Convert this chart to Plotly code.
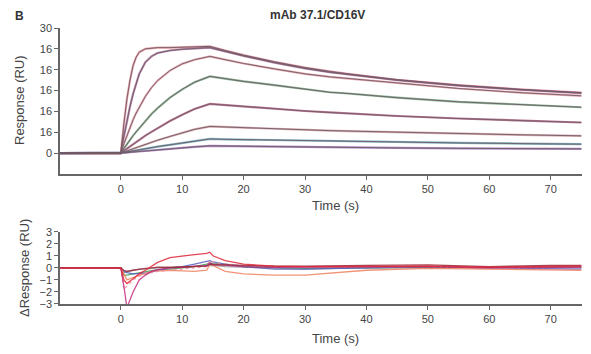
import plotly.graph_objects as go

# ---- Top panel: sensorgrams (time in s, response in RU) ----
T = [-10, 0, 0.5, 1, 1.5, 2, 2.5, 3, 4, 5, 6, 8, 10, 12, 14.5,
     17, 20, 25, 30, 34, 37, 45, 55, 65, 75]
curve1 = [0, 0, 7, 13, 17.5, 21, 23, 24.2, 25, 25.2, 25.3, 25.3, 25.4, 25.5, 25.6,
          24.6, 23.5, 21.9, 20.5, 19.6, 19.0, 17.6, 16.3, 15.3, 14.5]
curve2 = [0, 0, 4, 7.8, 11.2, 14.2, 16.8, 19.0, 21.8, 23.2, 24.0, 24.6, 24.9, 25.1, 25.3,
          24.4, 23.3, 21.7, 20.3, 19.4, 18.9, 17.5, 16.2, 15.2, 14.4]
curve3 = [0, 0, 2.2, 4.3, 6.2, 8, 9.6, 11, 13.6, 15.7, 17.4, 19.8, 21.4, 22.4, 23.2,
          22.4, 21.5, 20.2, 19.0, 18.3, 17.9, 16.7, 15.5, 14.5, 13.75]
curve4 = [0, 0, 1.1, 2.2, 3.2, 4.2, 5.1, 6.0, 7.8, 9.4, 10.8, 13.3, 15.3, 17.0, 18.4,
          17.8, 17.2, 16.3, 15.3, 14.6, 14.3, 13.3, 12.3, 11.6, 11.0]
curve5 = [0, 0, 0.55, 1.1, 1.65, 2.2, 2.7, 3.2, 4.2, 5.1, 6.0, 7.7, 9.2, 10.6, 11.8,
          11.5, 11.2, 10.6, 10.1, 9.75, 9.5, 8.9, 8.3, 7.8, 7.35]
curve6 = [0, 0, 0.28, 0.55, 0.83, 1.1, 1.35, 1.6, 2.1, 2.6, 3.1, 4.0, 4.9, 5.7, 6.4,
          6.25, 6.1, 5.85, 5.6, 5.4, 5.3, 5.0, 4.7, 4.4, 4.15]
curve7 = [0, 0, 0.14, 0.28, 0.42, 0.56, 0.7, 0.83, 1.1, 1.35, 1.58, 2.0, 2.45, 2.9, 3.4,
          3.32, 3.25, 3.1, 2.95, 2.8, 2.75, 2.6, 2.45, 2.3, 2.15]
curve8 = [0, 0, 0.07, 0.14, 0.21, 0.28, 0.35, 0.42, 0.55, 0.68, 0.8, 1.05, 1.28, 1.5, 1.75,
          1.7, 1.65, 1.55, 1.45, 1.35, 1.32, 1.25, 1.15, 1.08, 1.03]
curves = [curve1, curve2, curve3, curve4, curve5, curve6, curve7, curve8]
curve_colors = ["#e07c88", "#9a5a8a", "#e08a96", "#5e9a6e",
                "#a0406a", "#c88a90", "#4a94a8", "#8a5aa8"]

top_tickvals = [0, 5, 10, 15, 20, 25, 30]
top_ticktext = ["0", "16", "16", "16", "16", "16", "30"]
x_ticks = [0, 10, 20, 30, 40, 50, 60, 70]

# ---- Bottom panel: residuals ----
T2 = [-10, -1, 0, 0.5, 1, 2, 3, 4, 5, 6, 8, 10, 12, 14, 14.5,
      15, 17, 20, 25, 30, 35, 40, 50, 60, 70, 75]
res_red = [0, 0, 0, -1.0, -1.3, -0.9, -0.5, -0.2, 0.1, 0.45, 0.85, 1.0, 1.1, 1.2, 1.3,
           1.0, 0.6, 0.3, 0.15, 0.1, 0.1, 0.1, 0.15, 0.05, 0.1, 0.15]
res_magenta = [0, 0, 0, -1.5, -3.3, -2.0, -1.0, -0.6, -0.3, -0.15, 0, 0.05, 0.1, 0.2, 0.4,
               0.3, 0.2, 0.1, 0.05, 0.05, 0.05, 0.1, 0.1, 0.0, 0.05, 0.05]
res_pink = [0, 0, -0.1, -1.8, -1.5, -1.0, -0.7, -0.5, -0.4, -0.3, -0.2, -0.1, 0, 0.1, 0.6,
            0.5, 0.3, 0.2, 0.1, 0.05, 0.05, 0.1, 0.1, 0.0, 0.0, 0.05]
res_orange = [0, 0, 0, -0.5, -1.0, -0.8, -0.6, -0.45, -0.3, -0.25, -0.2, -0.25, -0.3, -0.2, 0.3,
              0.2, -0.3, -0.5, -0.6, -0.6, -0.4, -0.2, -0.05, -0.1, -0.15, -0.2]
res_green = [0, 0, 0, -0.6, -0.6, -0.5, -0.4, -0.3, -0.2, -0.15, -0.1, 0, 0.1, 0.3, 0.4,
             0.35, 0.3, 0.1, 0, -0.05, 0, 0, 0.05, 0, 0.05, 0.1]
res_blue = [0, 0, 0, -0.3, -0.4, -0.5, -0.5, -0.45, -0.35, -0.2, 0, 0.1, 0.3, 0.5, 0.6,
            0.5, 0.3, 0.1, -0.1, -0.1, -0.05, -0.05, 0.1, 0, -0.05, -0.1]
res_gray = [0, 0, 0, -0.4, -0.3, -0.2, -0.1, -0.1, -0.05, 0, 0, 0.05, 0.1, 0.15, 0.2,
            0.2, 0.1, 0.05, -0.05, -0.1, -0.05, 0, 0.05, 0.0, 0.05, 0.0]
res_darkred = [0, 0, 0, -0.2, -0.3, -0.2, -0.1, -0.05, 0, 0.05, 0.05, 0.1, 0.1, 0.15, 0.3,
               0.25, 0.25, 0.2, 0.15, 0.15, 0.2, 0.2, 0.25, 0.1, 0.2, 0.2]
residuals = [res_gray, res_green, res_blue, res_orange, res_pink, res_magenta, res_darkred, res_red]
res_colors = ["#9a9a9a", "#3f9e5a", "#5a5ec0", "#f08060", "#f090a0", "#c03080", "#9a2838", "#e02838"]
res_dash = ["solid", "solid", "solid", "solid", "dot", "solid", "solid", "solid"]

fig = go.Figure()

for y, c in zip(curves, curve_colors):
    fig.add_trace(go.Scatter(x=T, y=y, mode="lines", line=dict(color=c, width=2.2),
                             opacity=0.7, xaxis="x", yaxis="y", showlegend=False, hoverinfo="skip"))
for y in curves:
    fig.add_trace(go.Scatter(x=T, y=y, mode="lines", line=dict(color="#6e5a64", width=0.9),
                             xaxis="x", yaxis="y", showlegend=False, hoverinfo="skip"))

for y, c, d in zip(residuals, res_colors, res_dash):
    fig.add_trace(go.Scatter(x=T2, y=y, mode="lines", line=dict(color=c, width=1.3, dash=d),
                             opacity=0.85, xaxis="x2", yaxis="y2", showlegend=False, hoverinfo="skip"))

axis_common = dict(showline=True, linecolor="#666666", linewidth=1.5, ticks="outside",
                   ticklen=4, tickwidth=1.2, tickcolor="#666666", showgrid=False, zeroline=False,
                   automargin=False, tickfont=dict(size=11, color="#444444"))

# page has an 8px body margin: figure is sized/offset to compensate
OFF = 8
W, H = 591 - OFF, 354 - OFF
l, r, t, b = 60 - OFF, 9, 28 - OFF, 50
pw, ph = W - l - r, H - t - b

fig.update_layout(
    width=W, height=H,
    margin=dict(l=l, r=r, t=t, b=b, autoexpand=False),
    paper_bgcolor="white", plot_bgcolor="white",
    font=dict(family="Liberation Sans, Arial, sans-serif", color="#333333"),
    xaxis=dict(domain=[0, 1], anchor="y", range=[-9.9, 75.1], tickvals=x_ticks, **axis_common),
    yaxis=dict(domain=[0.471, 1], anchor="x", range=[-5, 30], tickvals=top_tickvals,
               ticktext=top_ticktext, **axis_common),
    xaxis2=dict(domain=[0, 1], anchor="y2", range=[-9.9, 75.1], tickvals=x_ticks, **axis_common),
    yaxis2=dict(domain=[0, 0.262], anchor="x2", range=[-3, 3], tickvals=[-3, -2, -1, 0, 1, 2, 3],
                **axis_common),
    annotations=[
        dict(text="<b>B</b>", x=19, y=16, showarrow=False,
             font=dict(size=12, color="#333333")),
        dict(text="<b>mAb 37.1/CD16V</b>", x=317, y=15, showarrow=False,
             font=dict(size=12, color="#333333")),
        dict(text="Response (RU)", x=19, y=100, textangle=-90, showarrow=False,
             font=dict(size=13, color="#444444")),
        dict(text="ΔResponse (RU)", x=24, y=268, textangle=-90, showarrow=False,
             font=dict(size=13, color="#444444")),
        dict(text="Time (s)", x=335, y=205, showarrow=False, font=dict(size=13, color="#444444")),
        dict(text="Time (s)", x=335, y=338, showarrow=False, font=dict(size=13, color="#444444")),
    ],
)

# convert page-pixel annotation positions to paper coordinates
new_ann = []
for a in fig.layout.annotations:
    a = a.to_plotly_json()
    a["x"] = (a["x"] - OFF - l) / pw
    a["y"] = 1 - (a["y"] - OFF - t) / ph
    a["xref"] = "paper"
    a["yref"] = "paper"
    a["xanchor"] = "center"
    a["yanchor"] = "middle"
    new_ann.append(a)
fig.layout.annotations = new_ann

fig.write_html("out.html")
